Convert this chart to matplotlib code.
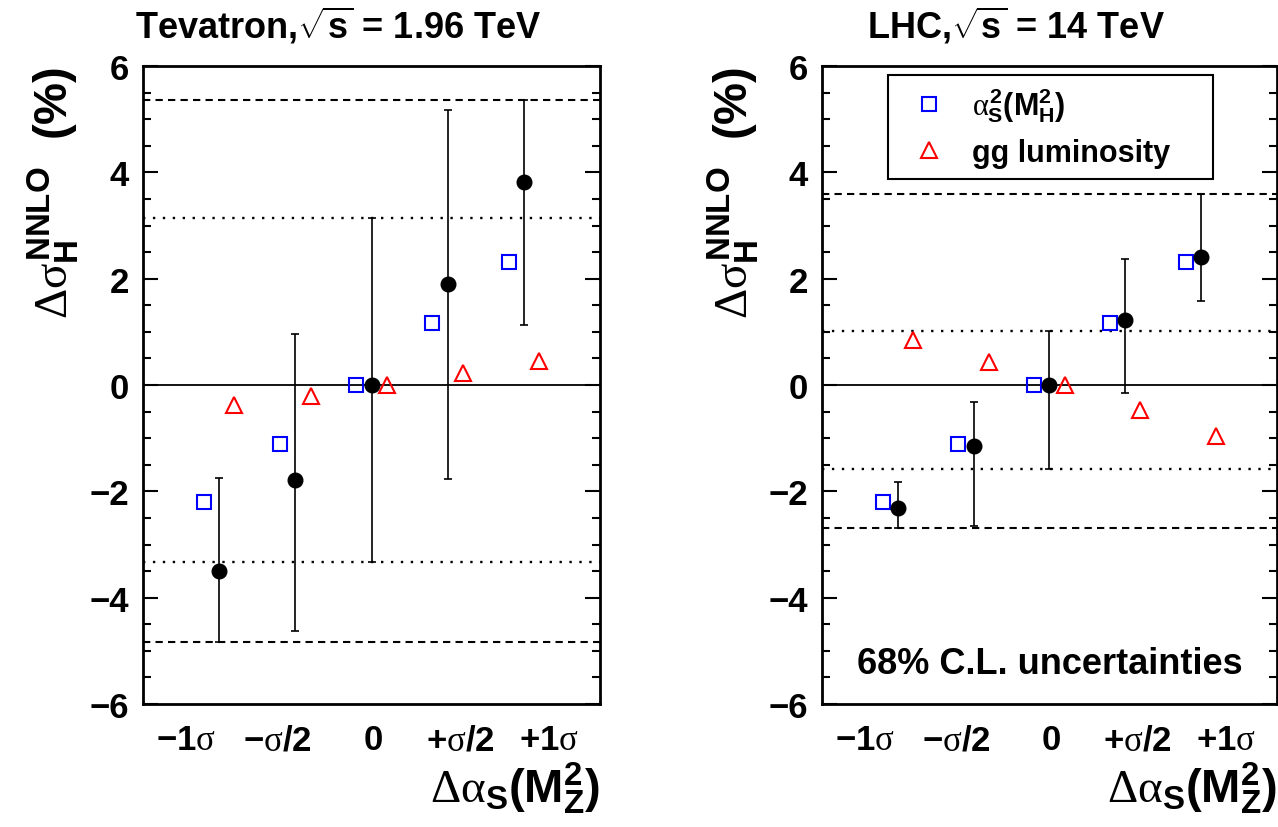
import numpy as np
import matplotlib.pyplot as plt
from matplotlib.lines import Line2D
from matplotlib.ticker import MultipleLocator

plt.rcParams['font.family'] = ['Liberation Sans', 'DejaVu Sans']
plt.rcParams['font.weight'] = 'bold'
plt.rcParams['axes.labelweight'] = 'bold'
plt.rcParams['mathtext.fontset'] = 'custom'
plt.rcParams['mathtext.rm'] = 'Liberation Serif:weight=normal'
plt.rcParams['mathtext.it'] = 'Liberation Serif:weight=normal'
plt.rcParams['mathtext.bf'] = 'Liberation Sans:weight=bold'

# shift of alpha_s(M_Z^2)
x_pos = [1, 2, 3, 4, 5]
x_labels = ['\u22121$\\sigma$', '\u2212$\\sigma$/2', '0', '+$\\sigma$/2', '+1$\\sigma$']
label_pos = [0.57, 1.77, 3.02, 4.16, 5.33]

# alpha_s^2(M_H^2) scaling (same in both panels)
alphas_sq = [-2.20, -1.11, 0.0, 1.16, 2.31]

# Tevatron
tev_central = [-3.49, -1.78, 0.0, 1.90, 3.81]
tev_low = [-4.84, -4.63, -3.33, -1.77, 1.13]
tev_high = [-1.75, 0.96, 3.14, 5.17, 5.36]
tev_gg = [-0.37, -0.21, 0.0, 0.23, 0.46]
tev_dotted = [-3.33, 3.14]
tev_dashed = [-4.84, 5.36]

# LHC
lhc_central = [-2.32, -1.14, 0.0, 1.23, 2.41]
lhc_low = [-2.69, -2.65, -1.58, -0.15, 1.58]
lhc_high = [-1.82, -0.32, 1.01, 2.37, 3.59]
lhc_gg = [0.85, 0.44, 0.0, -0.47, -0.95]
lhc_dotted = [-1.58, 1.01]
lhc_dashed = [-2.69, 3.59]


def draw_panel(ax, central, low, high, gg, dotted, dashed):
    central = np.array(central)
    yerr = [central - np.array(low), np.array(high) - central]
    x = np.array(x_pos, dtype=float)

    ax.axhline(0, color='black', lw=1.3, zorder=1)
    for y in dotted:
        ax.axhline(y, color='black', lw=1.7, ls=(0, (1, 3.2)), zorder=1)
    for y in dashed:
        ax.axhline(y, color='black', lw=1.5, ls=(0, (3.5, 2.5)), zorder=1)

    ax.plot(x - 0.2, alphas_sq, 's', ms=10.5, mfc='none', mec='blue', mew=1.5, zorder=3)
    ax.plot(x + 0.2, gg, '^', ms=11, mfc='none', mec='red', mew=1.5, zorder=3)
    ax.errorbar(x, central, yerr=yerr, fmt='o', color='black', ms=10.5,
                elinewidth=1.2, capsize=2.7, capthick=1.2, zorder=4)

    ax.set_xlim(0, 6)
    ax.set_ylim(-6, 6)
    ax.yaxis.set_major_locator(MultipleLocator(2))
    ax.yaxis.set_minor_locator(MultipleLocator(0.5))
    ax.tick_params(axis='y', which='both', direction='in', left=True, right=True,
                   width=1.5, labelsize=25, pad=10)
    ax.tick_params(axis='y', which='major', length=11)
    ax.tick_params(axis='y', which='minor', length=6)
    ax.set_xticks(label_pos)
    ax.set_xticklabels(x_labels)
    ax.tick_params(axis='x', length=0, labelsize=25, pad=14)
    for s in ax.spines.values():
        s.set_linewidth(2)

    ax.set_ylabel('$\\Delta\\sigma_{\\mathbf{H}}^{\\mathbf{NNLO}}$  (%)', fontsize=34,
                  fontweight='bold', loc='top')
    ax.yaxis.set_label_coords(-0.135, 1.0)
    ax.text(1.0, -0.154, '$\\Delta\\alpha_{\\mathbf{S}}\\mathbf{(M}_{\\mathbf{Z}}^{\\mathbf{2}}\\mathbf{)}$',
            transform=ax.transAxes, ha='right', va='baseline', fontsize=34)


fig = plt.figure(figsize=(12.78, 8.28), dpi=100)
ax1 = fig.add_axes([143 / 1278, 123 / 828, 457 / 1278, 638 / 828])
ax2 = fig.add_axes([822 / 1278, 123 / 828, 455 / 1278, 638 / 828])

draw_panel(ax1, tev_central, tev_low, tev_high, tev_gg, tev_dotted, tev_dashed)
draw_panel(ax2, lhc_central, lhc_low, lhc_high, lhc_gg, lhc_dotted, lhc_dashed)

fig.text(0.2645, 0.953, 'Tevatron,$\\sqrt{\\mathbf{s}}$ = 1.96 TeV', ha='center', va='baseline', fontsize=26)
fig.text(0.795, 0.953, 'LHC,$\\sqrt{\\mathbf{s}}$ = 14 TeV', ha='center', va='baseline', fontsize=26)

ax2.text(0.5, 0.063, '68% C.L. uncertainties', transform=ax2.transAxes,
         ha='center', va='center', fontsize=26)

handles = [Line2D([], [], ls='none', marker='s', ms=10.5, mfc='none', mec='blue', mew=1.5),
           Line2D([], [], ls='none', marker='^', ms=11, mfc='none', mec='red', mew=1.5)]
labels = ['$\\alpha_{\\mathbf{S}}^{\\mathbf{2}}\\mathbf{(M}_{\\mathbf{H}}^{\\mathbf{2}}\\mathbf{)}$',
          'gg luminosity']
leg = ax2.legend(handles, labels, loc='upper left', bbox_to_anchor=(0.145, 0.826, 0.715, 0.16),
                 mode='expand', fontsize=22, fancybox=False, framealpha=1, edgecolor='black',
                 borderpad=0.35, handlelength=2.0, handletextpad=0.4, labelspacing=0.45,
                 borderaxespad=0)
leg.get_frame().set_linewidth(1.5)

fig.savefig('out.png', dpi=100)
